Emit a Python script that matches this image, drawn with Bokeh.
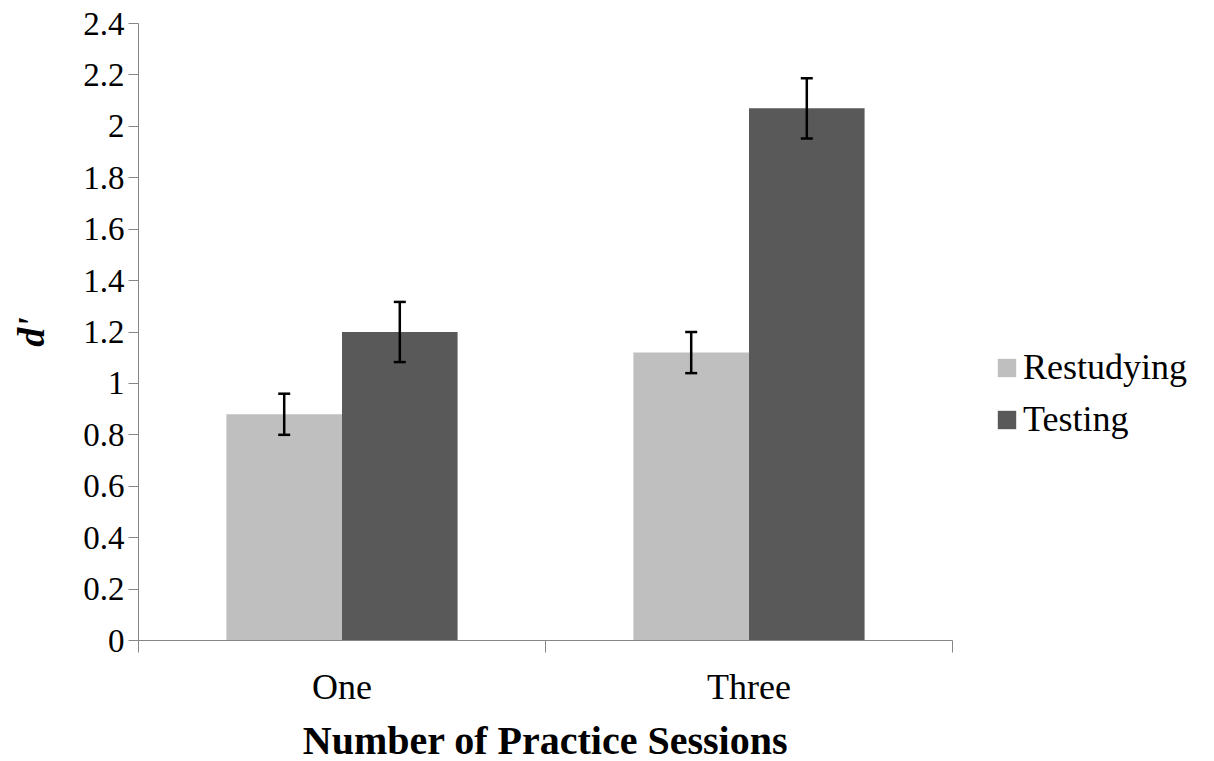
from bokeh.plotting import figure
from bokeh.models import Range1d, FixedTicker, Legend, LegendItem, Whisker, TeeHead, ColumnDataSource
from bokeh.embed import file_html
from bokeh.resources import INLINE

categories = ["One", "Three"]
series = ["Restudying", "Testing"]
restudying = [0.88, 1.12]
testing = [1.20, 2.07]
restudying_err = [0.08, 0.08]
testing_err = [0.117, 0.117]
y_ticks = [0, 0.2, 0.4, 0.6, 0.8, 1, 1.2, 1.4, 1.6, 1.8, 2, 2.2, 2.4]
y_tick_labels = ["0", "0.2", "0.4", "0.6", "0.8", "1", "1.2", "1.4", "1.6", "1.8", "2", "2.2", "2.4"]
colors = ["#BFBFBF", "#595959"]

FONT = "Liberation Serif"
AXIS_GRAY = "#868686"
BAR_W = 0.284
OFF = 0.142

p = figure(frame_width=814, frame_height=617,
           x_range=Range1d(0, len(categories)), y_range=Range1d(0, 2.4),
           output_backend="svg", toolbar_location=None,
           min_border_left=138, min_border_top=23, min_border_right=250, min_border_bottom=121)
p.outline_line_color = None
p.xgrid.visible = False
p.ygrid.visible = False

centers = [i + 0.5 for i in range(len(categories))]
x_r = [c - OFF for c in centers]
x_t = [c + OFF for c in centers]

r1 = p.vbar(x=x_r, top=restudying, width=BAR_W, fill_color=colors[0], line_color=None)
r2 = p.vbar(x=x_t, top=testing, width=BAR_W, fill_color=colors[1], line_color=None)

for xs, vals, errs in [(x_r, restudying, restudying_err), (x_t, testing, testing_err)]:
    src = ColumnDataSource(dict(x=xs,
                                upper=[v + e for v, e in zip(vals, errs)],
                                lower=[v - e for v, e in zip(vals, errs)]))
    w = Whisker(base="x", upper="upper", lower="lower", source=src, level="overlay",
                line_color="black", line_width=2.5,
                upper_head=TeeHead(size=12, line_color="black", line_width=2.5),
                lower_head=TeeHead(size=12, line_color="black", line_width=2.5))
    p.add_layout(w)

# y axis
ya = p.yaxis[0]
ya.ticker = FixedTicker(ticks=y_ticks, minor_ticks=[])
ya.major_label_overrides = {t: l for t, l in zip(y_ticks, y_tick_labels)}
ya.major_tick_out = 10
ya.major_tick_in = 0
ya.major_tick_line_color = AXIS_GRAY
ya.axis_line_color = AXIS_GRAY
ya.major_label_standoff = 4
ya.major_label_text_font = FONT
ya.major_label_text_font_size = "33px"
ya.major_label_text_color = "black"
ya.axis_label = "d'"
ya.axis_label_text_font = FONT
ya.axis_label_text_font_size = "38px"
ya.axis_label_text_font_style = "bold italic"
ya.axis_label_text_color = "black"
ya.axis_label_standoff = 28

# x axis
xa = p.xaxis[0]
xa.ticker = FixedTicker(ticks=centers, minor_ticks=list(range(len(categories) + 1)))
xa.major_label_overrides = {c: l for c, l in zip(centers, categories)}
xa.major_tick_line_color = None
xa.major_tick_out = 0
xa.major_tick_in = 0
xa.minor_tick_out = 12
xa.minor_tick_in = 0
xa.minor_tick_line_color = AXIS_GRAY
xa.axis_line_color = AXIS_GRAY
xa.major_label_standoff = 14
xa.major_label_text_font = FONT
xa.major_label_text_font_size = "36px"
xa.major_label_text_color = "black"
xa.axis_label = "Number of Practice Sessions"
xa.axis_label_text_font = FONT
xa.axis_label_text_font_size = "40px"
xa.axis_label_text_font_style = "bold"
xa.axis_label_text_color = "black"
xa.axis_label_standoff = 8

legend = Legend(items=[LegendItem(label=series[0], renderers=[r1]),
                       LegendItem(label=series[1], renderers=[r2])],
                location=(43, 200))
legend.label_text_font = FONT
legend.label_text_font_size = "36px"
legend.label_text_color = "black"
legend.glyph_width = 23
legend.glyph_height = 23
legend.label_standoff = 5
legend.spacing = 10
legend.padding = 0
legend.margin = 0
legend.border_line_color = None
legend.background_fill_alpha = 0
p.add_layout(legend, "right")

open("out.html", "w").write(file_html(p, INLINE))
